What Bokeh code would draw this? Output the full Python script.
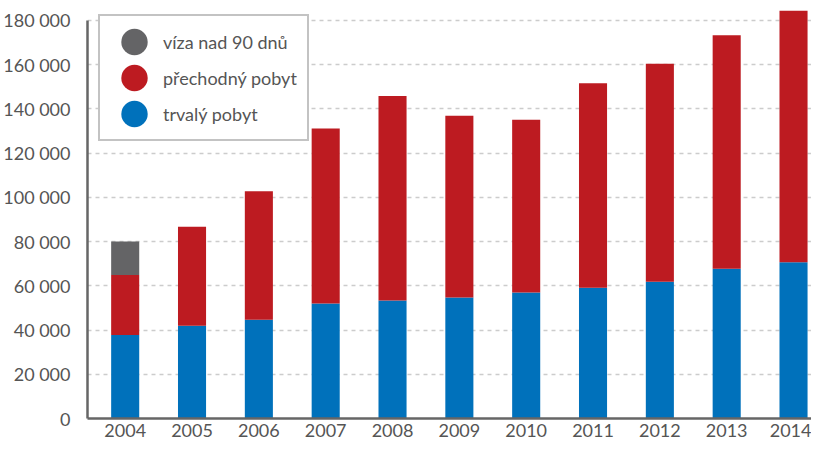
import math
from bokeh.plotting import figure
from bokeh.models import ColumnDataSource, Range1d, FixedTicker, Legend, LegendItem
from bokeh.embed import file_html
from bokeh.resources import INLINE

years = [2004, 2005, 2006, 2007, 2008, 2009, 2010, 2011, 2012, 2013, 2014]
trvaly = [37800, 41900, 44600, 52000, 53300, 54700, 57000, 59100, 61800, 67700, 70700]
prechodny = [27100, 44800, 58100, 79100, 92500, 82200, 78100, 92500, 98600, 105600, 113700]
viza = [15100, 0, 0, 0, 0, 0, 0, 0, 0, 0, 0]

series_names = ["trvaly", "prechodny", "viza"]
series_labels = ["trvalý pobyt", "přechodný pobyt", "víza nad 90 dnů"]
series_colors = ["#0071bb", "#bd1b21", "#646466"]

y_tick_values = [0, 20000, 40000, 60000, 80000, 100000, 120000, 140000, 160000, 180000]
y_tick_labels = ["0", "20 000", "40 000", "60 000", "80 000", "100 000",
                 "120 000", "140 000", "160 000", "180 000"]
x_tick_labels = [str(y) for y in years]

FONT = "Lato"
TXT = "#555555"

source = ColumnDataSource(dict(x=years, trvaly=trvaly, prechodny=prechodny, viza=viza))

p = figure(width=811, height=439, output_backend="svg", toolbar_location=None,
           x_range=Range1d(2003.436, 2014.269), y_range=Range1d(0, 189000),
           min_border_left=82, min_border_right=0, min_border_top=0, min_border_bottom=0)
p.outline_line_color = None
p.background_fill_color = "white"

renderers = p.vbar_stack(series_names, x="x", width=0.42, source=source,
                         color=series_colors, line_width=0)

# axes
p.yaxis.ticker = FixedTicker(ticks=y_tick_values)
p.yaxis.major_label_overrides = {v: l for v, l in zip(y_tick_values, y_tick_labels)}
p.yaxis.bounds = (0, 180000)
p.xaxis.ticker = FixedTicker(ticks=years)
p.xaxis.major_label_overrides = {v: l for v, l in zip(years, x_tick_labels)}
for ax in (p.xaxis, p.yaxis):
    ax.axis_line_color = "#666666"
    ax.axis_line_width = 2.5
    ax.major_tick_line_color = None
    ax.minor_tick_line_color = None
    ax.major_tick_out = 0
    ax.major_tick_in = 0
    ax.minor_tick_out = 0
    ax.minor_tick_in = 0
    ax.major_label_text_font = FONT
    ax.major_label_text_font_size = "18px"
    ax.major_label_text_color = TXT
p.yaxis.major_label_standoff = 17
p.xaxis.major_label_standoff = 5

p.xgrid.grid_line_color = None
p.ygrid.ticker = FixedTicker(ticks=y_tick_values)
p.ygrid.grid_line_color = "#cccccc"
p.ygrid.grid_line_width = 1.5
p.ygrid.grid_line_dash = "4 4"

# legend glyphs: circles (dummy ellipses, not drawn on plot)
nan = float("nan")
items = []
for name, label, color in zip(series_names[::-1], series_labels[::-1], series_colors[::-1]):
    r = p.ellipse(x=[nan], y=[nan], width=26, height=26, width_units="screen",
                  height_units="screen", fill_color=color, line_color=None)
    items.append(LegendItem(label=label, renderers=[r]))

legend = Legend(items=items, location=(11, 277), padding=9,
                glyph_width=50, glyph_height=33, spacing=3, label_standoff=4,
                label_width=135,
                label_text_font=FONT, label_text_font_size="18px", label_text_color=TXT,
                border_line_color="#888888", border_line_width=2,
                background_fill_color="white", background_fill_alpha=1)
p.add_layout(legend, "center")

open("out.html", "w").write(file_html(p, INLINE))
